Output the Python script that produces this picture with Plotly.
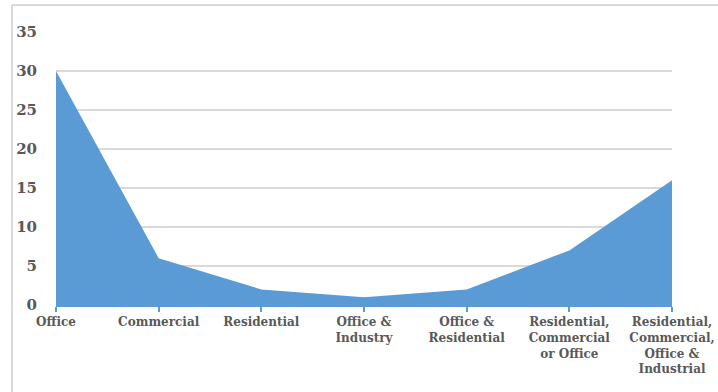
import plotly.graph_objects as go

categories = ["Office", "Commercial", "Residential", "Office &<br>Industry",
              "Office &<br>Residential", "Residential,<br>Commercial<br>or Office",
              "Residential,<br>Commercial,<br>Office &<br>Industrial"]
values = [30, 6, 2, 1, 2, 7, 16]
y_ticks = [0, 5, 10, 15, 20, 25, 30, 35]

FILL = "#5b9bd5"
TXT = "#595959"
GRID = "#d9d9d9"

x_idx = list(range(len(categories)))

fig = go.Figure()
fig.add_trace(go.Scatter(
    x=x_idx, y=values, mode="lines", fill="tozeroy",
    fillcolor=FILL, line=dict(width=0, color=FILL), hoverinfo="skip",
))

L, R, T, B = 56, 46, 32, 87
W, H = 718, 392
pw, ph = W - L - R, H - T - B

def px_x(p):
    return (p - L) / pw

def px_y(p):
    return (H - B - p) / ph

fig.update_layout(
    width=W, height=H,
    margin=dict(l=L, r=R, t=T, b=B, autoexpand=False),
    paper_bgcolor="white", plot_bgcolor="white",
    showlegend=False,
    font=dict(family="DejaVu Serif", color=TXT),
    xaxis=dict(
        range=[0, len(categories) - 1],
        tickmode="array", tickvals=x_idx, ticktext=[f"<b>{c}</b>" for c in categories],
        showgrid=False, zeroline=False, automargin=False,
        showline=True, linecolor=FILL, linewidth=2,
        ticks="outside", ticklen=5, tickcolor=FILL, tickwidth=2,
        tickfont=dict(family="DejaVu Serif", size=12, color=TXT),
        fixedrange=True,
    ),
    yaxis=dict(
        range=[0, 35],
        tickmode="array", tickvals=y_ticks, ticktext=[f"<b>{v}</b>" for v in y_ticks],
        showgrid=True, gridcolor=GRID, gridwidth=1.5,
        zeroline=False, showline=False, ticks="", automargin=False,
        ticklabelstandoff=18,
        tickfont=dict(family="DejaVu Serif", size=15, color=TXT),
        fixedrange=True,
    ),
    shapes=[
        dict(type="line", xref="paper", yref="paper",
             x0=px_x(12), x1=px_x(12), y0=px_y(5), y1=px_y(400),
             line=dict(color=GRID, width=2)),
        dict(type="line", xref="paper", yref="paper",
             x0=px_x(12), x1=px_x(730), y0=px_y(5), y1=px_y(5),
             line=dict(color=GRID, width=2)),
    ],
)

fig.write_html("out.html")
